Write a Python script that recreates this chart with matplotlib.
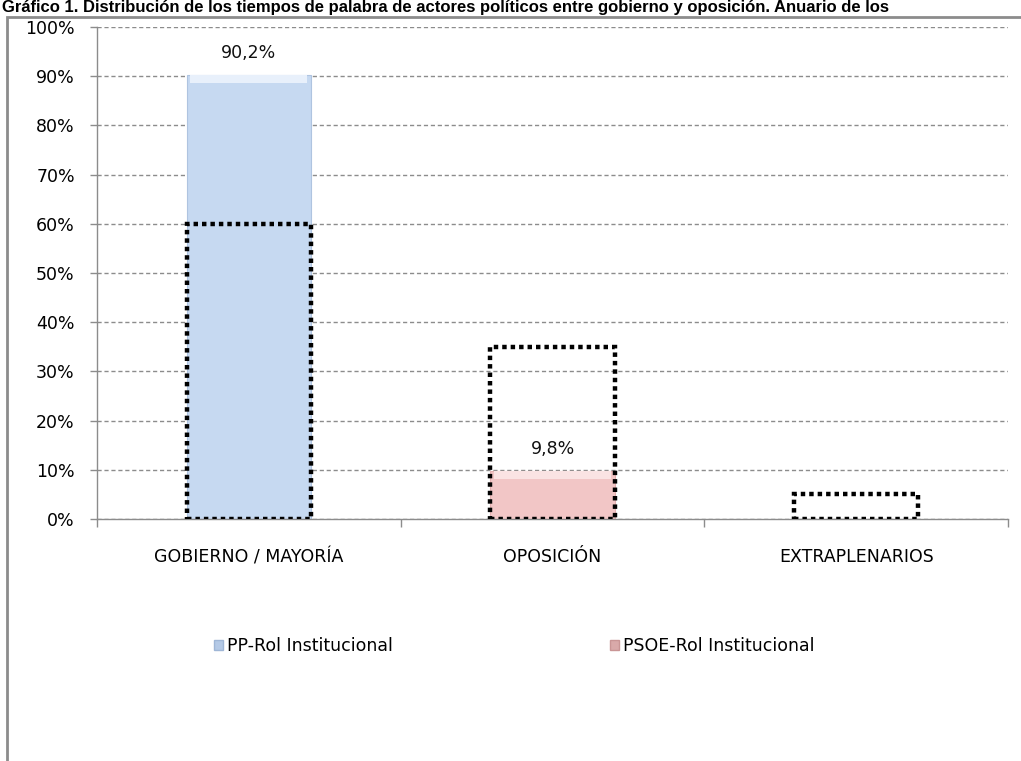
import numpy as np
import matplotlib
matplotlib.use("Agg")
import matplotlib.pyplot as plt
from matplotlib.patches import Rectangle, Patch
from matplotlib.ticker import FuncFormatter

plt.rcParams['font.family'] = ['DejaVu Sans']

# data
categories = ["GOBIERNO / MAYORÍA", "OPOSICIÓN", "EXTRAPLENARIOS"]
pp_rol = [90.2, 0, 0]
psoe_rol = [0, 9.8, 0]
referencia = [60, 35, 5]
labels_pp = ["90,2%", "", ""]
labels_psoe = ["", "9,8%", ""]
title = ("Gráfico 1. Distribución de los tiempos de palabra de actores políticos "
         "entre gobierno y oposición. Anuario de los")

fig = plt.figure(figsize=(10.21, 7.61), dpi=100)
W, H = 1021, 761
ax = fig.add_axes([97 / W, 1 - 519 / H, (1008 - 97) / W, (519 - 27) / H])

x = np.arange(len(categories))
w = 0.41
fs = 12.5

ax.bar(x, pp_rol, width=w, color="#C6D9F1", edgecolor="#AFC4E0", linewidth=0.8, zorder=2)
ax.bar(x, psoe_rol, width=w, color="#F2C6C6", edgecolor="#E3B0B0", linewidth=0.8, zorder=2)
# soft highlight on top of the filled bars
for xi, v in zip(x, pp_rol):
    if v > 0:
        ax.bar(xi, 1.6, bottom=v - 1.6, width=w * 0.94, color="#E8F0FB", linewidth=0, zorder=3)
for xi, v in zip(x, psoe_rol):
    if v > 0:
        ax.bar(xi, 1.6, bottom=v - 1.6, width=w * 0.94, color="#FAE3E3", linewidth=0, zorder=3)

# dotted reference boxes
ax.bar(x, referencia, width=w, fill=False, edgecolor="black", linewidth=3.2,
       linestyle=(0, (1, 0.9)), zorder=4)

for xi, v, t in zip(x, pp_rol, labels_pp):
    if t:
        ax.text(xi, v + 2.6, t, ha="center", va="bottom", fontsize=fs, color="#111111")
for xi, v, t in zip(x, psoe_rol, labels_psoe):
    if t:
        ax.text(xi, v + 2.6, t, ha="center", va="bottom", fontsize=fs, color="#111111")

ax.set_xlim(-0.5, len(categories) - 0.5)
ax.set_ylim(0, 100)
ax.set_yticks(np.arange(0, 101, 10))
ax.yaxis.set_major_formatter(FuncFormatter(lambda v, p: f"{int(v)}%"))
ax.grid(axis="y", color="#8C8C8C", linestyle=(0, (3, 2)), linewidth=1, zorder=0)
ax.set_axisbelow(True)

ax.set_xticks(x)
ax.set_xticklabels(categories)
ax.set_xticks(np.arange(-0.5, len(categories)), minor=True)
ax.tick_params(axis="x", which="major", length=0, pad=21, labelsize=fs)
ax.tick_params(axis="x", which="minor", length=6, width=1, color="#8C8C8C", direction="out")
ax.tick_params(axis="y", length=5, width=1, color="#8C8C8C", labelsize=fs, pad=11)

for s in ["top", "right"]:
    ax.spines[s].set_visible(False)
for s in ["left", "bottom"]:
    ax.spines[s].set_color("#8C8C8C")
    ax.spines[s].set_linewidth(1)

handles = [Patch(facecolor="#B4C9E6", edgecolor="#9FB6D6"),
           Patch(facecolor="#D9A9A9", edgecolor="#C99595")]
fig.legend(handles, ["PP-Rol Institucional", "PSOE-Rol Institucional"],
           loc="center", bbox_to_anchor=(514 / W, 1 - 646 / H), ncol=2, frameon=False,
           fontsize=fs, handlelength=0.55, handleheight=0.55, handletextpad=0.2,
           columnspacing=12.5)

# outer chart frame
fig.patches.append(Rectangle((7 / W, -0.1), 1.2, 1 - 17 / H + 0.1, transform=fig.transFigure,
                             fill=False, edgecolor="#8C8C8C", linewidth=2))

# title
fig.text(2 / W, 1 - 12 / H, title, fontsize=12, fontweight="bold",
         family=["Liberation Sans", "DejaVu Sans"], va="baseline")

fig.savefig("out.png", dpi=100)
